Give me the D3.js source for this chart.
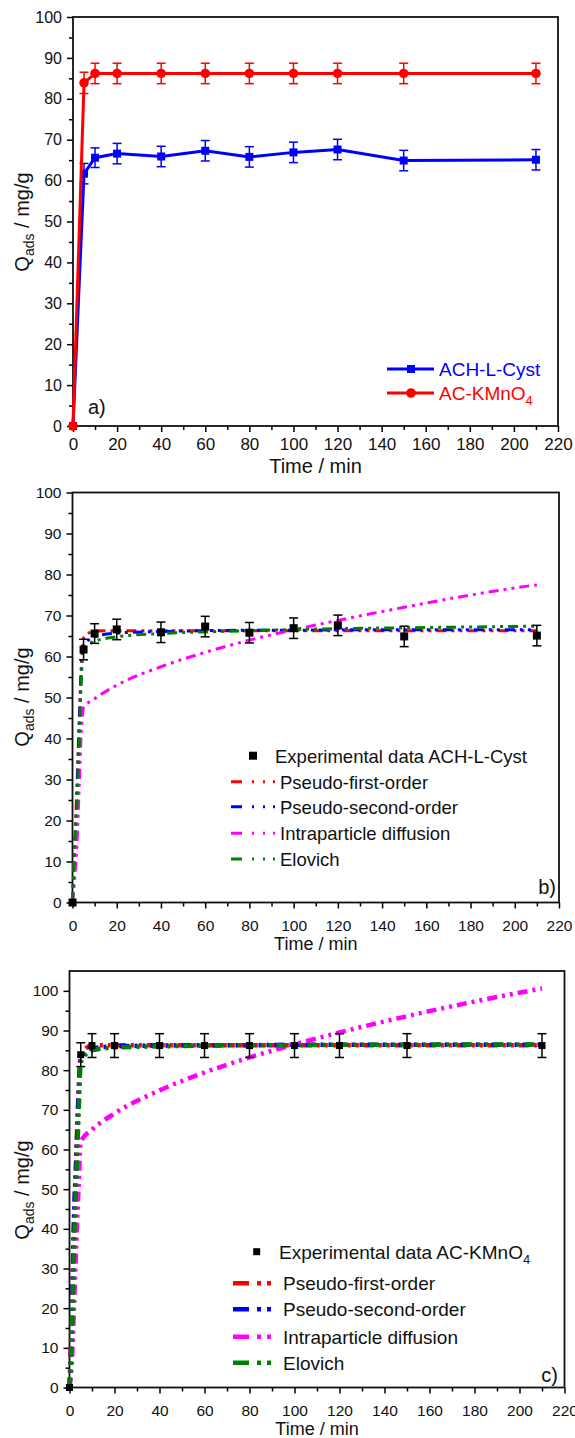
<!DOCTYPE html>
<html>
<head>
<meta charset="utf-8">
<script src="https://cdn.jsdelivr.net/npm/d3@7"></script>
<style>
  body { margin: 0; background: #fff; }
  svg { display: block; font-family: "Liberation Sans", Arial, sans-serif; }
</style>
</head>
<body>
<svg id="chart" width="575" height="1438"></svg>
<script>
// --- experimental points (time in min, Q in mg/g)
var times = [0, 5, 10, 20, 40, 60, 80, 100, 120, 150, 210];
var qCyst = [0, 61.7, 65.6, 66.6, 65.9, 67.3, 65.8, 66.9, 67.6, 64.9, 65.1];
var errCyst = [0, 2.5, 2.4, 2.5, 2.5, 2.5, 2.5, 2.5, 2.5, 2.5, 2.5];
var qKMnO4 = [0, 83.9, 86.2, 86.2, 86.2, 86.2, 86.2, 86.2, 86.2, 86.2, 86.2];
var errKMnO4 = [0, 2.6, 2.5, 2.5, 2.5, 2.5, 2.5, 2.5, 2.5, 2.5, 2.5];
var errKMnO4c = [0, 3.0, 3.0, 3.0, 3.0, 3.0, 3.0, 3.0, 3.0, 3.0, 3.0];

// --- model curves
var fitTimes = [0, 1, 2, 3, 4, 5, 10, 20, 40, 60, 80, 100, 120, 150, 180, 210];
var pfoCyst = [0, 14, 28, 44, 58, 64.5, 66.2, 66.3, 66.3, 66.3, 66.3, 66.3, 66.3, 66.3, 66.3, 66.3];
var psoCyst = [0, 13, 26, 42, 56, 62.5, 64.8, 65.7, 66.1, 66.3, 66.4, 66.4, 66.5, 66.5, 66.5, 66.5];
var ipdCyst = [0, 6, 14, 28, 42, 47.5, 49.7, 53.0, 57.5, 61.0, 64.0, 66.5, 68.8, 72.0, 75.0, 77.5];
var eloCyst = [0, 14, 24, 38, 55, 62, 63.7, 64.8, 65.6, 66.0, 66.3, 66.6, 66.8, 67.0, 67.2, 67.4];

var pfoKMnO4 = [0, 18, 40, 58, 74, 84, 86.2, 86.3, 86.3, 86.3, 86.3, 86.3, 86.3, 86.3, 86.3, 86.3];
var psoKMnO4 = [0, 15, 43, 57, 73, 82.5, 85.5, 86.0, 86.2, 86.3, 86.3, 86.4, 86.4, 86.4, 86.4, 86.4];
var ipdKMnO4 = [0, 6, 20, 36, 50, 62, 65, 69.1, 74.9, 79.4, 83.2, 86.5, 89.5, 93.6, 97.3, 100.6];
var eloKMnO4 = [0, 12, 35, 52, 68, 82, 85, 85.7, 86, 86.2, 86.3, 86.3, 86.4, 86.4, 86.5, 86.5];

// --- ticks
var xTicks = [0, 20, 40, 60, 80, 100, 120, 140, 160, 180, 200, 220];
var xMinor = [10, 30, 50, 70, 90, 110, 130, 150, 170, 190, 210];
var yTicks = [0, 10, 20, 30, 40, 50, 60, 70, 80, 90, 100];
var yMinor = [5, 15, 25, 35, 45, 55, 65, 75, 85, 95];

var modelNames = ['Pseudo-first-order', 'Pseudo-second-order', 'Intraparticle diffusion', 'Elovich'];
var modelColors = ['#ff0000', '#0000ff', '#ff00ff', '#008000'];

var svg = d3.select('#chart');

function pts(xs, ys) {
  return xs.map(function(t, i) { return { t: t, q: ys[i] }; });
}

//--- AXES + FRAME
function frame(p) {
  var x = d3.scaleLinear().domain([0, 220]).range([p.left, p.right]);
  var y = d3.scaleLinear().domain([0, p.yMax]).range([p.bottom, p.top]);
  var g = svg.append('g');

  g.append('g')
    .attr('transform', 'translate(0,' + p.bottom + ')')
    .call(d3.axisBottom(x).tickValues(xMinor).tickSize(4).tickSizeOuter(0).tickFormat(''));
  g.append('g')
    .attr('transform', 'translate(0,' + p.bottom + ')')
    .call(d3.axisBottom(x).tickValues(xTicks).tickSize(6).tickSizeOuter(0).tickPadding(p.xPad))
    .selectAll('text').style('font-size', p.xFont + 'px');
  g.append('g')
    .attr('transform', 'translate(' + p.left + ',0)')
    .call(d3.axisLeft(y).tickValues(yMinor).tickSize(4).tickSizeOuter(0).tickFormat(''));
  g.append('g')
    .attr('transform', 'translate(' + p.left + ',0)')
    .call(d3.axisLeft(y).tickValues(yTicks).tickSize(6).tickSizeOuter(0).tickPadding(5))
    .selectAll('text').style('font-size', p.yFont + 'px');

  g.selectAll('.domain').remove();
  g.selectAll('.tick line').attr('stroke', '#000').attr('stroke-width', 1.5);
  g.selectAll('.tick text').attr('fill', '#111').style('font-family', '"Liberation Sans", Arial, sans-serif');

  g.append('rect')
    .attr('x', p.left).attr('y', p.top)
    .attr('width', p.right - p.left).attr('height', p.bottom - p.top)
    .attr('fill', 'none').attr('stroke', '#111').attr('stroke-width', 1.8);

  // axis titles
  g.append('text')
    .attr('x', (p.left + p.right) / 2).attr('y', p.titleY)
    .attr('text-anchor', 'middle')
    .style('font-size', p.titleFont + 'px').attr('fill', '#111')
    .text('Time / min');

  var yt = g.append('text')
    .attr('transform', 'translate(29,' + p.yTitleC + ') rotate(-90)')
    .attr('text-anchor', 'middle')
    .style('font-size', '20px').attr('fill', '#111');
  yt.append('tspan').text('Q');
  yt.append('tspan').attr('dy', 5).style('font-size', '14px').text('ads');
  yt.append('tspan').attr('dy', -5).text(' / mg/g');

  g.append('text')
    .attr('x', p.tagX).attr('y', p.tagY)
    .attr('text-anchor', p.tagAnchor)
    .style('font-size', '20px').attr('fill', '#111')
    .text(p.tag);

  return { x: x, y: y, g: g };
}

function errorBars(g, x, y, data, color, cap) {
  var e = g.append('g').attr('stroke', color).attr('stroke-width', 1.5);
  data.filter(function(d) { return d.e > 0; }).forEach(function(d) {
    e.append('line').attr('x1', x(d.t)).attr('x2', x(d.t)).attr('y1', y(d.q - d.e)).attr('y2', y(d.q + d.e));
    e.append('line').attr('x1', x(d.t) - cap / 2).attr('x2', x(d.t) + cap / 2).attr('y1', y(d.q - d.e)).attr('y2', y(d.q - d.e));
    e.append('line').attr('x1', x(d.t) - cap / 2).attr('x2', x(d.t) + cap / 2).attr('y1', y(d.q + d.e)).attr('y2', y(d.q + d.e));
  });
}

function squares(g, x, y, data, color, s) {
  g.selectAll(null).data(data).enter().append('rect')
    .attr('x', function(d) { return x(d.t) - s / 2; })
    .attr('y', function(d) { return y(d.q) - s / 2; })
    .attr('width', s).attr('height', s)
    .attr('fill', color);
}

function withErr(qs, es) {
  return times.map(function(t, i) { return { t: t, q: qs[i], e: es[i] }; });
}

/* -----------------------
    PANEL A
 -------------------------- */
var a = frame({ left: 73, right: 558, top: 17, bottom: 426, yMax: 100,
  xPad: 6, xFont: 17, yFont: 16, titleY: 473, titleFont: 20, yTitleC: 222,
  tag: 'a)', tagX: 88, tagY: 414, tagAnchor: 'start' });

var lineA = d3.line().x(function(d) { return a.x(d.t); }).y(function(d) { return a.y(d.q); });
var cystA = withErr(qCyst, errCyst);
var kmnA = withErr(qKMnO4, errKMnO4);

a.g.append('path').datum(cystA).attr('d', lineA)
  .attr('fill', 'none').attr('stroke', '#0000ff').attr('stroke-width', 3);
errorBars(a.g, a.x, a.y, cystA, '#0000ff', 9);
squares(a.g, a.x, a.y, cystA, '#0000ff', 8);

a.g.append('path').datum(kmnA).attr('d', lineA)
  .attr('fill', 'none').attr('stroke', '#ff0000').attr('stroke-width', 3);
errorBars(a.g, a.x, a.y, kmnA, '#ff0000', 9);
a.g.selectAll(null).data(kmnA).enter().append('circle')
  .attr('cx', function(d) { return a.x(d.t); })
  .attr('cy', function(d) { return a.y(d.q); })
  .attr('r', 4.8).attr('fill', '#ff0000');

//--- legend a
var legA = a.g.append('g');
[['ACH-L-Cyst', '#0000ff', 369], ['AC-KMnO', '#ff0000', 393]].forEach(function(it, i) {
  legA.append('line').attr('x1', 387).attr('x2', 434).attr('y1', it[2]).attr('y2', it[2])
    .attr('stroke', it[1]).attr('stroke-width', 3);
  if (i === 0) {
    legA.append('rect').attr('x', 407).attr('y', it[2] - 4).attr('width', 8).attr('height', 8).attr('fill', it[1]);
  } else {
    legA.append('circle').attr('cx', 411).attr('cy', it[2]).attr('r', 4.8).attr('fill', it[1]);
  }
  var t = legA.append('text').attr('x', 439).attr('y', it[2] + 7)
    .style('font-size', '19px').attr('fill', it[1]).text(it[0]);
  if (i === 1) t.append('tspan').attr('dy', 5).style('font-size', '13px').text('4');
});

/* -----------------------
    MODEL PANELS (B, C)
 -------------------------- */
function modelPanel(p, q, err, fits, sq, lw, dash, leg) {
  var f = frame(p);
  var line = d3.line().curve(d3.curveMonotoneX)
    .x(function(d) { return f.x(d.t); }).y(function(d) { return f.y(d.q); });

  fits.forEach(function(vals, i) {
    f.g.append('path').datum(pts(fitTimes, vals)).attr('d', line)
      .attr('fill', 'none').attr('stroke', modelColors[i])
      .attr('stroke-width', lw).attr('stroke-dasharray', dash);
  });

  var data = withErr(q, err);
  errorBars(f.g, f.x, f.y, data, '#000', 9);
  squares(f.g, f.x, f.y, data, '#000', sq);

  //--- legend
  var lg = f.g.append('g').style('font-size', leg.font + 'px').attr('fill', '#111');
  lg.append('rect').attr('x', leg.sqX - sq / 2).attr('y', leg.y0 - sq / 2)
    .attr('width', sq).attr('height', sq).attr('fill', '#000');
  var et = lg.append('text').attr('x', leg.expX).attr('y', leg.y0 + 7).text(leg.exp);
  if (leg.sub) et.append('tspan').attr('dy', 5).style('font-size', '13px').text(leg.sub);

  modelNames.forEach(function(name, i) {
    var yy = leg.rows[i];
    lg.append('line').attr('x1', leg.x1).attr('x2', leg.x2).attr('y1', yy).attr('y2', yy)
      .attr('stroke', modelColors[i]).attr('stroke-width', lw).attr('stroke-dasharray', leg.dash);
    lg.append('text').attr('x', leg.textX).attr('y', yy + 7).text(name);
  });
}

modelPanel(
  { left: 72.5, right: 559, top: 492.5, bottom: 902.5, yMax: 100,
    xPad: 11, xFont: 15.5, yFont: 15.5, titleY: 950, titleFont: 18, yTitleC: 697,
    tag: 'b)', tagX: 556, tagY: 894, tagAnchor: 'end' },
  qCyst, errCyst, [pfoCyst, psoCyst, ipdCyst, eloCyst], 8, 3, '10,5,3,5,3,5',
  { font: 18.5, sqX: 253, y0: 755.7, expX: 275, exp: 'Experimental data ACH-L-Cyst',
    rows: [781.7, 806.7, 833.3, 859], x1: 231, x2: 276, textX: 280,
    dash: '11,10,2,9,2,8,2,100' }
);

modelPanel(
  { left: 69.5, right: 564.5, top: 971, bottom: 1387.5, yMax: 105,
    xPad: 11, xFont: 15.5, yFont: 15.5, titleY: 1435, titleFont: 18, yTitleC: 1190,
    tag: 'c)', tagX: 558, tagY: 1382, tagAnchor: 'end' },
  qKMnO4, errKMnO4c, [pfoKMnO4, psoKMnO4, ipdKMnO4, eloKMnO4], 7, 4.5, '10,5,3,5,3,5',
  { font: 19, sqX: 256.7, y0: 1251.7, expX: 279, exp: 'Experimental data AC-KMnO', sub: '4',
    rows: [1283.3, 1309.3, 1336.7, 1362.7], x1: 233, x2: 279, textX: 283,
    dash: '16,8,4,6,4,100' }
);
</script>
</body>
</html>
